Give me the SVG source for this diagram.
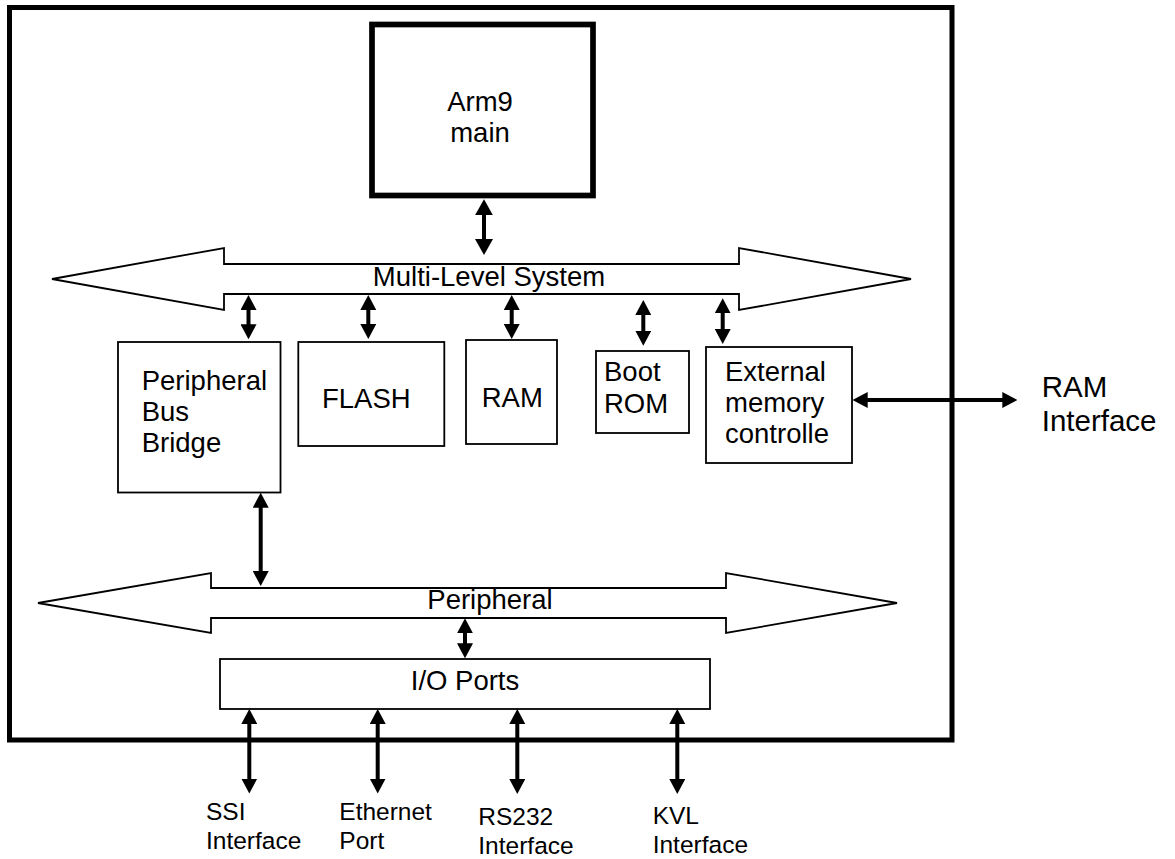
<svg xmlns="http://www.w3.org/2000/svg" width="1175" height="859" viewBox="0 0 1175 859">
<style>
text{font-family:"Liberation Sans",Arial,sans-serif;fill:#000}
.t{font-size:27.5px}
.s{font-size:24.5px}
.r{font-size:29.5px}
.m{text-anchor:middle}
.box{fill:#fff;stroke:#000;stroke-width:1.8}
.bus{fill:#fff;stroke:#000;stroke-width:1.8;stroke-linejoin:miter}
.ar{stroke:#000;stroke-width:4;fill:none;marker-start:url(#ah);marker-end:url(#ah)}
.arL{stroke:#000;stroke-width:4;fill:none;marker-start:url(#ahL);marker-end:url(#ahL)}
</style>
<defs>
<marker id="ah" markerUnits="userSpaceOnUse" markerWidth="15" markerHeight="16" viewBox="0 0 15 16" refX="10" refY="8" orient="auto-start-reverse">
<path d="M0,0 L15,8 L0,16 z" fill="#000"/>
</marker>
<marker id="ahL" markerUnits="userSpaceOnUse" markerWidth="16" markerHeight="18" viewBox="0 0 16 18" refX="11" refY="9" orient="auto-start-reverse">
<path d="M0,0 L16,9 L0,18 z" fill="#000"/>
</marker>
</defs>
<rect width="1175" height="859" fill="#fff"/>
<g id="system">
<rect x="9.5" y="7.5" width="942.5" height="732.5" fill="none" stroke="#000" stroke-width="5"/>
</g>
<g id="arm9">
<rect x="372" y="24.5" width="221" height="171" fill="#fff" stroke="#000" stroke-width="5.7"/>
<text class="t m" x="480" y="110.7">Arm9</text>
<text class="t m" x="480" y="141.7">main</text>
</g>
<g id="multi-level-bus">
<polygon class="bus" points="52,279 224,248 224,264 739,264 739,248 911,279 739,310 739,294 224,294 224,310"/>
<text class="t m" x="489" y="286">Multi-Level System</text>
</g>
<g id="bridge">
<rect class="box" x="118" y="342" width="162.5" height="150.5"/>
<text class="t" x="141.7" y="390">Peripheral</text>
<text class="t" x="141.7" y="421">Bus</text>
<text class="t" x="141.7" y="452">Bridge</text>
</g>
<g id="flash">
<rect class="box" x="298.3" y="342" width="146" height="104"/>
<text class="t m" x="366.3" y="408.3">FLASH</text>
</g>
<g id="ram">
<rect class="box" x="466" y="340" width="91" height="104"/>
<text class="t" x="481.7" y="407">RAM</text>
</g>
<g id="bootrom">
<rect class="box" x="596" y="351" width="93" height="82"/>
<text class="t" x="604" y="380.7">Boot</text>
<text class="t" x="604" y="412.7">ROM</text>
</g>
<g id="extmem">
<rect class="box" x="706" y="347" width="146" height="116"/>
<text class="t" x="725" y="380.7">External</text>
<text class="t" x="725" y="411.7">memory</text>
<text class="t" x="725" y="443.3">controlle</text>
</g>
<g id="peripheral-bus">
<polygon class="bus" points="38,603 211,573 211,588 726,588 726,573 897,603 726,633 726,618 211,618 211,633"/>
<text class="t m" x="490" y="609.3">Peripheral</text>
</g>
<g id="io">
<rect class="box" x="220" y="659" width="490" height="50"/>
<text class="t m" x="465" y="690">I/O Ports</text>
</g>
<g id="ram-interface">
<text class="r" x="1041.7" y="397">RAM</text>
<text class="r" x="1041.7" y="431">Interface</text>
</g>
<g id="ssi">
<text class="s" x="206" y="820">SSI</text>
<text class="s" x="206" y="849">Interface</text>
</g>
<g id="ethernet">
<text class="s" x="339.3" y="820">Ethernet</text>
<text class="s" x="339.3" y="849">Port</text>
</g>
<g id="rs232">
<text class="s" x="478.3" y="825">RS232</text>
<text class="s" x="478.3" y="854">Interface</text>
</g>
<g id="kvl">
<text class="s" x="652.7" y="824">KVL</text>
<text class="s" x="652.7" y="853">Interface</text>
</g>
<g id="connectors">
<line class="arL" x1="484" y1="204.3" x2="484" y2="250"/>
<line class="ar" x1="248.5" y1="300" x2="248.5" y2="334.3"/>
<line class="ar" x1="368.3" y1="300" x2="368.3" y2="334"/>
<line class="ar" x1="511.7" y1="300" x2="511.7" y2="334"/>
<line class="ar" x1="643.3" y1="305" x2="643.3" y2="340.7"/>
<line class="ar" x1="722.7" y1="303.3" x2="722.7" y2="339"/>
<line class="ar" x1="857.7" y1="400" x2="1012.3" y2="400"/>
<line class="ar" x1="260.7" y1="497.7" x2="260.7" y2="581"/>
<line class="ar" x1="465" y1="623.3" x2="465" y2="653.3"/>
<line class="ar" x1="249.3" y1="714" x2="249.3" y2="788.5"/>
<line class="ar" x1="377.7" y1="714" x2="377.7" y2="788.5"/>
<line class="ar" x1="517.3" y1="714" x2="517.3" y2="789"/>
<line class="ar" x1="677.3" y1="714" x2="677.3" y2="789"/>
</g>
</svg>
